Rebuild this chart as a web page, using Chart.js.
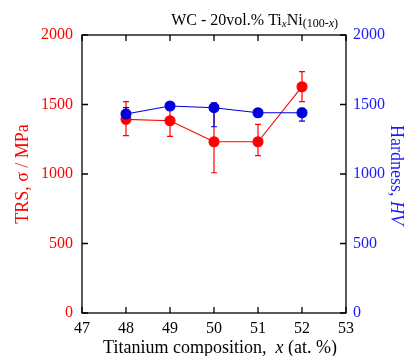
<!DOCTYPE html>
<html>
<head>
<meta charset="utf-8">
<script src="https://cdn.jsdelivr.net/npm/chart.js@4.4.0/dist/chart.umd.min.js"></script>
<style>
  html, body { margin: 0; padding: 0; background: #fff; }
  #wrap { width: 408px; height: 356px; }
</style>
</head>
<body>
<div id="wrap"><canvas id="chart" width="408" height="356"></canvas></div>
<script>
// composition (at.% Ti)
const compX = [48, 49, 50, 51, 52];
// TRS (MPa) with error bars
const trs = [1393, 1383, 1232, 1232, 1628];
const trsErrUp = [127, 110, 225, 125, 108];
const trsErrDown = [117, 112, 223, 100, 108];
// hardness (HV) with error bars
const hv = [1432, 1489, 1477, 1441, 1441];
const hvErrUp = [45, 0, 35, 0, 31];
const hvErrDown = [0, 0, 137, 0, 60];

const xTicks = [47, 48, 49, 50, 51, 52, 53];
const yTicks = [0, 500, 1000, 1500, 2000];

const RED = '#ff0000';
const BLUE = '#0000dd';
const BLUE_TXT = '#1a1aff';
const SERIF = '"Liberation Serif", "DejaVu Serif", serif';

// error bars, drawn under the markers
const errorBars = {
  id: 'errorBars',
  beforeDatasetsDraw(chart) {
    const ctx = chart.ctx;
    const xs = chart.scales.x;
    const sets = [
      { y: chart.scales.yL, v: trs, up: trsErrUp, dn: trsErrDown, c: RED },
      { y: chart.scales.yR, v: hv, up: hvErrUp, dn: hvErrDown, c: BLUE }
    ];
    ctx.save();
    ctx.lineWidth = 1.2;
    sets.forEach(s => {
      ctx.strokeStyle = s.c;
      compX.forEach((xv, i) => {
        const px = xs.getPixelForValue(xv);
        const top = s.y.getPixelForValue(s.v[i] + s.up[i]);
        const bot = s.y.getPixelForValue(s.v[i] - s.dn[i]);
        ctx.beginPath();
        ctx.moveTo(px, top); ctx.lineTo(px, bot);
        if (s.up[i] > 0) { ctx.moveTo(px - 3, top); ctx.lineTo(px + 3, top); }
        if (s.dn[i] > 0) { ctx.moveTo(px - 3, bot); ctx.lineTo(px + 3, bot); }
        ctx.stroke();
      });
    });
    ctx.restore();
  }
};

// frame, inward ticks, titles
const frame = {
  id: 'frame',
  beforeDatasetsDraw(chart) {
    const ctx = chart.ctx;
    const a = chart.chartArea;
    const xs = chart.scales.x, yl = chart.scales.yL;
    ctx.save();
    ctx.strokeStyle = '#000';
    ctx.lineWidth = 1.3;
    ctx.strokeRect(a.left, a.top, a.right - a.left, a.bottom - a.top);
    ctx.beginPath();
    xTicks.forEach(v => {
      const px = xs.getPixelForValue(v);
      ctx.moveTo(px, a.bottom); ctx.lineTo(px, a.bottom - 6);
      ctx.moveTo(px, a.top); ctx.lineTo(px, a.top + 6);
    });
    yTicks.forEach(v => {
      const py = yl.getPixelForValue(v);
      ctx.moveTo(a.left, py); ctx.lineTo(a.left + 6, py);
      ctx.moveTo(a.right, py); ctx.lineTo(a.right - 6, py);
    });
    ctx.stroke();
    ctx.restore();
  },
  afterDraw(chart) {
    const ctx = chart.ctx;
    ctx.save();
    ctx.textBaseline = 'alphabetic';

    // top-right title: WC - 20vol.% TixNi(100-x)
    const parts = [
      { t: 'WC - 20vol.% Ti', f: '16px ' + SERIF, dy: 0 },
      { t: 'x', f: 'italic 11px ' + SERIF, dy: 2 },
      { t: 'Ni', f: '16px ' + SERIF, dy: 0 },
      { t: '(100-', f: '12px ' + SERIF, dy: 2 },
      { t: 'x', f: 'italic 12px ' + SERIF, dy: 2 },
      { t: ')', f: '12px ' + SERIF, dy: 2 }
    ];
    let total = 0;
    parts.forEach(p => { ctx.font = p.f; p.w = ctx.measureText(p.t).width; total += p.w; });
    let cx = 338 - total;
    ctx.fillStyle = '#000';
    parts.forEach(p => { ctx.font = p.f; ctx.fillText(p.t, cx, 25 + p.dy); cx += p.w; });

    // x axis title
    const xp = [
      { t: 'Titanium composition,  ', f: '18px ' + SERIF },
      { t: 'x', f: 'italic 18px ' + SERIF },
      { t: ' (at. %)', f: '18px ' + SERIF }
    ];
    total = 0;
    xp.forEach(p => { ctx.font = p.f; p.w = ctx.measureText(p.t).width; total += p.w; });
    cx = 220 - total / 2;
    xp.forEach(p => { ctx.font = p.f; ctx.fillText(p.t, cx, 353); cx += p.w; });

    // left y title
    ctx.save();
    ctx.translate(28, 174);
    ctx.rotate(-Math.PI / 2);
    ctx.font = '18px ' + SERIF;
    ctx.fillStyle = RED;
    ctx.textAlign = 'center';
    ctx.fillText('TRS, \u03c3 / MPa', 0, 0);
    ctx.restore();

    // right y title
    ctx.save();
    ctx.translate(391, 175);
    ctx.rotate(Math.PI / 2);
    ctx.fillStyle = BLUE_TXT;
    const rp = [
      { t: 'Hardness, ', f: '18px ' + SERIF },
      { t: 'HV', f: 'italic 18px ' + SERIF }
    ];
    total = 0;
    rp.forEach(p => { ctx.font = p.f; p.w = ctx.measureText(p.t).width; total += p.w; });
    cx = -total / 2;
    rp.forEach(p => { ctx.font = p.f; ctx.fillText(p.t, cx, 0); cx += p.w; });
    ctx.restore();

    ctx.restore();
  }
};

const trsPoints = compX.map((x, i) => ({ x: x, y: trs[i] }));
const hvPoints = compX.map((x, i) => ({ x: x, y: hv[i] }));
const plain = v => String(v);

new Chart(document.getElementById('chart'), {
  type: 'line',
  data: {
    datasets: [
      {
        label: 'TRS',
        data: trsPoints,
        yAxisID: 'yL',
        borderColor: RED,
        backgroundColor: RED,
        pointBackgroundColor: RED,
        pointBorderColor: RED,
        pointRadius: 5,
        borderWidth: 1.1,
        tension: 0,
        order: 1
      },
      {
        label: 'Hardness',
        data: hvPoints,
        yAxisID: 'yR',
        borderColor: BLUE,
        backgroundColor: BLUE,
        pointBackgroundColor: BLUE,
        pointBorderColor: BLUE,
        pointRadius: 5,
        borderWidth: 1.1,
        tension: 0,
        order: 0
      }
    ]
  },
  options: {
    responsive: false,
    animation: false,
    layout: { padding: { top: 35, left: 0, right: 0, bottom: 0 } },
    plugins: { legend: { display: false }, tooltip: { enabled: false }, title: { display: false } },
    scales: {
      x: {
        type: 'linear',
        min: 47, max: 53,
        border: { display: false },
        grid: { display: false, drawTicks: false },
        afterBuildTicks: s => { s.ticks = xTicks.map(v => ({ value: v })); },
        afterFit: s => { s.height = 43; },
        ticks: { color: '#000', padding: 6, callback: plain, font: { family: SERIF, size: 16 } }
      },
      yL: {
        position: 'left',
        min: 0, max: 2000,
        border: { display: false },
        grid: { display: false, drawTicks: false },
        afterBuildTicks: s => { s.ticks = yTicks.map(v => ({ value: v })); },
        afterFit: s => { s.width = 82; },
        ticks: { color: RED, padding: 9, callback: plain, font: { family: SERIF, size: 16 } }
      },
      yR: {
        position: 'right',
        min: 0, max: 2000,
        border: { display: false },
        grid: { display: false, drawTicks: false },
        afterBuildTicks: s => { s.ticks = yTicks.map(v => ({ value: v })); },
        afterFit: s => { s.width = 62; },
        ticks: { color: BLUE_TXT, padding: 7, callback: plain, font: { family: SERIF, size: 16 } }
      }
    }
  },
  plugins: [errorBars, frame]
});
</script>
</body>
</html>
